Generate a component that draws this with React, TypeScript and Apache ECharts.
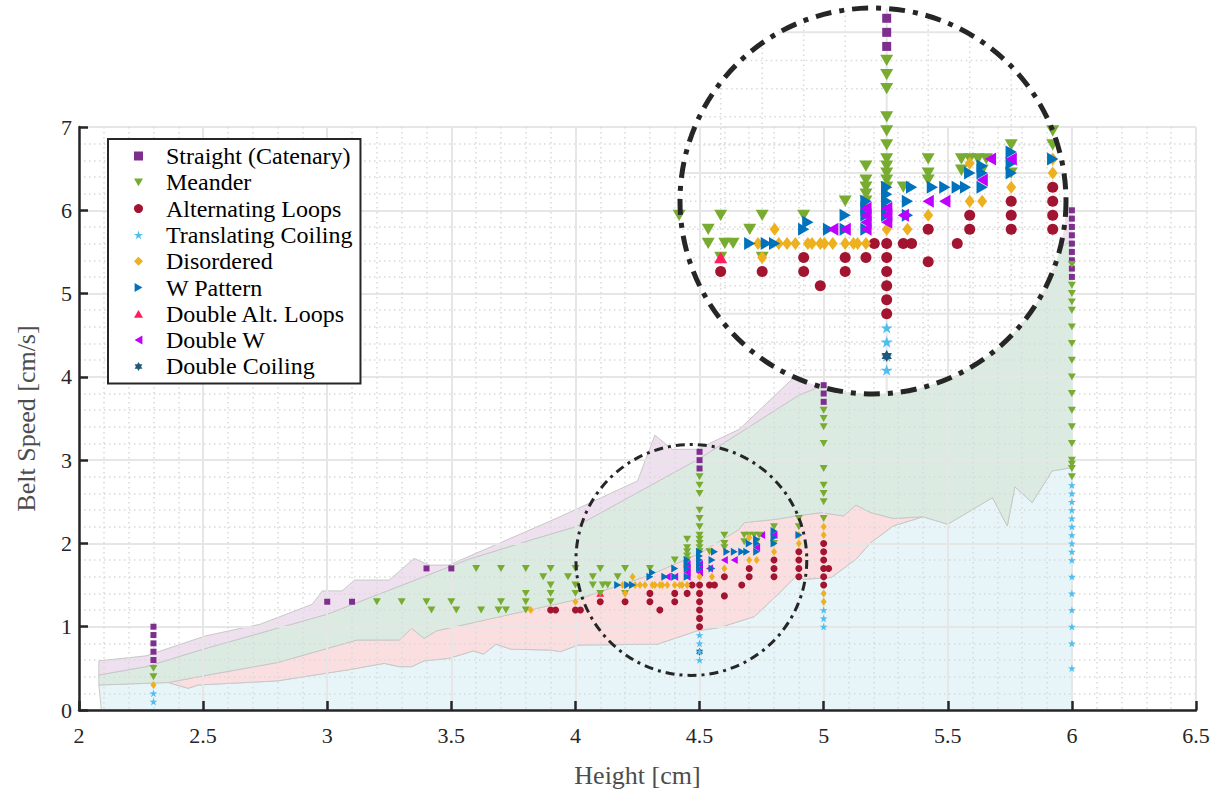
import React, { useEffect, useRef } from "react";
import * as echarts from "echarts";

type Pt = [number, number];

// ---------------- data ----------------
const STRAIGHT: Pt[] = [
  [2.3, 1.0], [2.3, 0.9], [2.3, 0.8], [2.3, 0.7], [2.3, 0.6],
  [3.0, 1.3], [3.1, 1.3], [3.4, 1.7], [3.5, 1.7],
  [4.5, 3.1], [4.5, 3.0], [4.5, 2.9],
  [5.0, 3.9], [5.0, 3.8], [5.0, 3.7],
  [6.0, 6.0], [6.0, 5.9], [6.0, 5.8], [6.0, 5.7], [6.0, 5.6], [6.0, 5.5], [6.0, 5.4], [6.0, 5.3], [6.0, 5.2],
];

const MEANDER: Pt[] = [
  [2.3, 0.5], [2.3, 0.4],
  [3.2, 1.3], [3.3, 1.3], [3.4, 1.3], [3.5, 1.3], [3.7, 1.3], [3.8, 1.3], [3.9, 1.3],
  [3.42, 1.2], [3.52, 1.2], [3.62, 1.2], [3.69, 1.2], [3.72, 1.2], [3.8, 1.2],
  [3.6, 1.7], [3.7, 1.7], [3.8, 1.7], [3.9, 1.7], [4.0, 1.7], [4.1, 1.7], [4.2, 1.7], [4.3, 1.7],
  [3.87, 1.6], [3.97, 1.6], [4.07, 1.6], [4.17, 1.6],
  [3.9, 1.5], [4.0, 1.5], [4.07, 1.5], [4.11, 1.5], [4.13, 1.5],
  [3.8, 1.4], [3.9, 1.4], [4.0, 1.4], [4.1, 1.4], [4.2, 1.4],
  [4.4, 1.8],
  [4.45, 2.05], [4.45, 1.95], [4.45, 1.9], [4.45, 1.85], [4.45, 1.8],
  [4.5, 2.8], [4.5, 2.7], [4.5, 2.6], [4.5, 2.4], [4.5, 2.3], [4.5, 2.2], [4.5, 2.1], [4.5, 2.05], [4.5, 2.0], [4.5, 1.95], [4.5, 1.9],
  [4.54, 1.9],
  [4.6, 2.1], [4.6, 2.0], [4.6, 1.95],
  [4.68, 2.1], [4.7, 2.1], [4.72, 2.1], [4.74, 2.1], [4.68, 2.02], [4.73, 2.02],
  [4.8, 2.2], [4.8, 2.0],
  [4.9, 2.3], [4.9, 2.2],
  [5.0, 3.6], [5.0, 3.5], [5.0, 3.4], [5.0, 3.2], [5.0, 2.9], [5.0, 2.7], [5.0, 2.6], [5.0, 2.5], [5.0, 2.3],
  [6.0, 5.35], [6.0, 5.1], [6.0, 5.0], [6.0, 4.9], [6.0, 4.8], [6.0, 4.6], [6.0, 4.4], [6.0, 4.2], [6.0, 4.0],
  [6.0, 3.8], [6.0, 3.6], [6.0, 3.4], [6.0, 3.2], [6.0, 3.0], [6.0, 2.95], [6.0, 2.9], [6.0, 2.8],
];

const ALT_LOOPS: Pt[] = [
  [3.9, 1.2], [3.92, 1.2], [4.0, 1.2], [4.02, 1.2],
  [4.1, 1.3], [4.2, 1.3], [4.3, 1.4], [4.3, 1.3], [4.34, 1.2], [4.4, 1.4], [4.4, 1.3], [4.45, 1.4], [4.47, 1.5],
  [4.5, 1.5], [4.5, 1.4], [4.5, 1.3], [4.5, 1.2], [4.5, 1.1], [4.5, 1.0],
  [4.54, 1.5], [4.56, 1.5], [4.6, 1.6], [4.6, 1.37], [4.67, 1.5],
  [4.7, 1.7], [4.7, 1.6], [4.8, 1.8], [4.8, 1.7], [4.8, 1.6],
  [4.9, 1.9], [4.9, 1.8], [4.9, 1.7], [4.9, 1.6],
  [5.0, 2.0], [5.0, 1.9], [5.0, 1.8], [5.0, 1.7], [5.02, 1.7], [5.0, 1.6], [5.0, 1.5],
];

const TRANSLATING: Pt[] = [
  [2.3, 0.2], [2.3, 0.1],
  [4.5, 0.9], [4.5, 0.8], [4.5, 0.7], [4.5, 0.6],
  [5.0, 1.2], [5.0, 1.1], [5.0, 1.0],
  [6.0, 2.7], [6.0, 2.6], [6.0, 2.5], [6.0, 2.4], [6.0, 2.3], [6.0, 2.2], [6.0, 2.1], [6.0, 2.0],
  [6.0, 1.9], [6.0, 1.8], [6.0, 1.6], [6.0, 1.4], [6.0, 1.2], [6.0, 1.0], [6.0, 0.8], [6.0, 0.5],
];

const DISORDERED: Pt[] = [
  [2.3, 0.3],
  [3.82, 1.2], [4.0, 1.3],
  [4.19, 1.5], [4.23, 1.6], [4.2, 1.4],
  [4.24, 1.5], [4.26, 1.5], [4.28, 1.5], [4.31, 1.5], [4.32, 1.5], [4.34, 1.5], [4.35, 1.5], [4.37, 1.5],
  [4.4, 1.5], [4.42, 1.5], [4.43, 1.5], [4.45, 1.5],
  [4.5, 1.6], [4.55, 1.6], [4.6, 1.7], [4.7, 1.8], [4.73, 1.8], [4.7, 2.07], [4.8, 1.9], [4.9, 2.0], [4.9, 2.1],
  [5.0, 2.2], [5.0, 2.1], [5.0, 1.4], [5.0, 1.3],
];

const W_PATTERN: Pt[] = [
  [4.17, 1.5], [4.21, 1.5], [4.23, 1.5],
  [4.3, 1.6], [4.31, 1.65],
  [4.36, 1.6], [4.4, 1.6], [4.4, 1.7],
  [4.45, 1.8], [4.45, 1.75], [4.45, 1.7], [4.45, 1.6],
  [4.5, 1.9], [4.5, 1.85], [4.5, 1.8], [4.5, 1.75], [4.5, 1.7],
  [4.55, 1.8], [4.55, 1.7],
  [4.56, 1.9], [4.61, 1.9], [4.64, 1.9], [4.67, 1.9], [4.69, 1.9],
  [4.7, 2.0], [4.73, 2.05], [4.73, 2.0], [4.73, 1.9],
  [4.8, 2.15], [4.8, 2.07], [4.8, 2.0],
  [4.9, 2.1],
];

const DOUBLE_ALT: Pt[] = [[4.1, 1.4]];

const DOUBLE_W: Pt[] = [
  [4.37, 1.6], [4.4, 1.6], [4.45, 1.75], [4.45, 1.7], [4.45, 1.65], [4.45, 1.6],
  [4.5, 1.75], [4.5, 1.7], [4.5, 1.65], [4.54, 1.7], [4.6, 1.8], [4.64, 1.8],
  [4.73, 1.95], [4.75, 2.1], [4.8, 2.1],
];

const DOUBLE_COILING: Pt[] = [[4.5, 0.7]];

// regime boundaries (shaded regions)
const CYAN_TOP: Pt[] = [
  [2.08, 0.3], [2.36, 0.33], [2.44, 0.26], [2.48, 0.3], [2.8, 0.35], [3.1, 0.49], [3.23, 0.56], [3.29, 0.52],
  [3.34, 0.52], [3.39, 0.59], [3.49, 0.62], [3.59, 0.71], [3.63, 0.67], [3.68, 0.79], [3.74, 0.73], [3.9, 0.72],
  [3.94, 0.7], [4.01, 0.78], [4.33, 0.79], [4.49, 0.95], [4.58, 0.99], [4.72, 1.12], [4.82, 1.4], [4.89, 1.61],
  [4.92, 1.57], [5.03, 1.59], [5.13, 1.81], [5.19, 2.01], [5.28, 2.21], [5.4, 2.32], [5.5, 2.23], [5.68, 2.55],
  [5.74, 2.21], [5.77, 2.68], [5.84, 2.49], [5.92, 2.87], [6.0, 2.91],
];
const RED_TOP: Pt[] = [
  [2.36, 0.33], [2.5, 0.41], [2.8, 0.57], [3.12, 0.84], [3.29, 0.84], [3.34, 0.98], [3.39, 0.86], [3.44, 0.95],
  [3.59, 1.05], [4.01, 1.33], [4.3, 1.62], [4.5, 1.88], [4.66, 2.17], [4.68, 2.25], [4.81, 2.29], [4.89, 2.33],
  [4.99, 2.37], [5.08, 2.33], [5.13, 2.46], [5.19, 2.37], [5.28, 2.3], [5.4, 2.32],
];
const GREEN_TOP: Pt[] = [
  [2.08, 0.42], [2.27, 0.52], [2.5, 0.73], [3.0, 1.15], [3.57, 1.81], [3.83, 2.05], [4.0, 2.2], [4.5, 3.02],
  [4.9, 3.78], [5.0, 3.9], [5.5, 4.75], [6.0, 5.64],
];
const PURPLE_TOP: Pt[] = [
  [2.08, 0.59], [2.27, 0.65], [2.51, 0.89], [2.73, 1.03], [2.94, 1.27], [2.98, 1.43], [3.06, 1.43], [3.11, 1.56],
  [3.25, 1.56], [3.35, 1.82], [3.41, 1.74], [3.49, 1.74], [3.73, 2.05], [3.93, 2.31], [4.25, 2.75], [4.32, 3.3],
  [4.39, 3.13], [4.49, 3.13], [4.66, 3.37], [4.9, 4.05], [5.0, 4.15], [5.5, 5.1], [6.0, 6.0],
];
const BASELINE: Pt[] = [[2.09, 0], [6.0, 0]];

// magnified view (data window shown inside the big circle)
const INSET_X: Pt = [4.002, 4.932];
const INSET_Y: Pt = [0.43, 3.173];
const INSET_TICKS_X = [4.1, 4.2, 4.3, 4.4, 4.5, 4.6, 4.7, 4.8, 4.9];
const INSET_TICKS_Y = [0.6, 0.8, 1.0, 1.2, 1.4, 1.6, 1.8, 2.0, 2.2, 2.4, 2.6, 2.8, 3.0];

const NAMES = [
  "Straight (Catenary)", "Meander", "Alternating Loops", "Translating Coiling", "Disordered",
  "W Pattern", "Double Alt. Loops", "Double W", "Double Coiling",
];
const SERIES_DATA: Pt[][] = [
  STRAIGHT, MEANDER, ALT_LOOPS, TRANSLATING, DISORDERED, W_PATTERN, DOUBLE_ALT, DOUBLE_W, DOUBLE_COILING,
];

// ---------------- styles ----------------
const COLORS = ["#7E2F8E", "#77AC30", "#A2142F", "#4DBEEE", "#EDB120", "#0072BD", "#FF1F5B", "#BF00FF", "#1E5A78"];
const SYM_DOWN = "path://M0,0L10,0L5,8.66Z";
const SYM_RIGHT = "path://M0,0L8.66,5L0,10Z";
const SYM_LEFT = "path://M8.66,0L0,5L8.66,10Z";
const SYM_UP = "path://M5,0L10,8.66L0,8.66Z";
const SYM_STAR5 =
  "path://M50,0L61.2,34.5L97.6,34.5L68.2,55.9L79.4,90.5L50,69.1L20.6,90.5L31.8,55.9L2.4,34.5L38.8,34.5Z";
const SYM_STAR6 =
  "path://M50,0L64.4,25L93.3,25L78.9,50L93.3,75L64.4,75L50,100L35.6,75L6.7,75L21.1,50L6.7,25L35.6,25Z";
const SYMBOLS = ["rect", SYM_DOWN, "circle", SYM_STAR5, "diamond", SYM_RIGHT, SYM_UP, SYM_LEFT, SYM_STAR6];
const MAIN_SIZE: any[] = [6, 8, 7, 8, [6, 8], 8, 8, 8, 8];
const INSET_SIZE: any[] = [9, 13, 11, 12, [10, 13], 13, 13, 13, 12];
const BAND_FILLS = ["#e7f5f8", "#fbdfe0", "#dcebe1", "#eee0ef"];
const FONT = "'Liberation Serif', 'Times New Roman', serif";

function buildOption() {
  const cx = (INSET_X[0] + INSET_X[1]) / 2;
  const hx = (INSET_X[1] - INSET_X[0]) / 2;
  const cy = (INSET_Y[0] + INSET_Y[1]) / 2;
  const hy = (INSET_Y[1] - INSET_Y[0]) / 2;
  const inLens = (p: Pt) => ((p[0] - cx) / hx) ** 2 + ((p[1] - cy) / hy) ** 2 <= 1.04;

  const redStart = RED_TOP[0][0];
  const redEnd = RED_TOP[RED_TOP.length - 1][0];
  const lowerRed = CYAN_TOP.filter((p) => p[0] >= redStart && p[0] <= redEnd);
  const lowerGreen = [
    ...CYAN_TOP.filter((p) => p[0] < redStart),
    ...RED_TOP,
    ...CYAN_TOP.filter((p) => p[0] > redEnd),
  ];
  const bands: Pt[][] = [
    [...CYAN_TOP, ...BASELINE.slice().reverse()],
    [...RED_TOP, ...lowerRed.slice().reverse()],
    [...GREEN_TOP, ...lowerGreen.slice().reverse()],
    [...PURPLE_TOP, ...GREEN_TOP.slice().reverse()],
  ];

  const insetLines: { dir: string; v: number; major: boolean }[] = [
    ...INSET_TICKS_X.map((v) => ({ dir: "v", v, major: Math.abs(v * 2 - Math.round(v * 2)) < 1e-6 })),
    ...INSET_TICKS_Y.map((v) => ({ dir: "h", v, major: Math.abs(v - Math.round(v)) < 1e-6 })),
  ];

  const mainOrder = [6, 7, 8, 0, 1, 2, 3, 4, 5];
  const mainScatter = mainOrder.map((i) => ({
    type: "scatter",
    name: NAMES[i],
    data: SERIES_DATA[i],
    xAxisIndex: 0,
    yAxisIndex: 0,
    symbol: SYMBOLS[i],
    symbolSize: MAIN_SIZE[i],
    symbolKeepAspect: true,
    itemStyle: { color: COLORS[i], opacity: 1 },
    silent: true,
    z: 5,
  }));
  const insetScatter = NAMES.map((name, i) => ({
    type: "scatter",
    name,
    data: SERIES_DATA[i].filter(inLens),
    xAxisIndex: 1,
    yAxisIndex: 1,
    symbol: SYMBOLS[i],
    symbolSize: INSET_SIZE[i],
    symbolKeepAspect: true,
    itemStyle: { color: COLORS[i], opacity: 1 },
    silent: true,
    clip: false,
    z: 6,
  }));

  const gridLineStyle = { color: "#e6e6e6", width: 2 };
  const minorStyle = { color: "#d9d9d9", width: 1.5, type: [1.5, 3.5] };

  return {
    animation: false,
    backgroundColor: "#ffffff",
    grid: [
      { left: 79, right: 31, top: 127, bottom: 88 },
      { left: 680, top: 8, width: 386, height: 386 },
    ],
    legend: {
      data: NAMES,
      orient: "vertical",
      left: 108,
      top: 139,
      itemWidth: 9,
      itemHeight: 9,
      itemGap: 2.3,
      padding: [5, 8, 5, 26],
      backgroundColor: "#ffffff",
      borderColor: "#262626",
      borderWidth: 2,
      borderRadius: 0,
      selectedMode: false,
      z: 10,
      textStyle: { fontFamily: FONT, fontSize: 24, color: "#000000", lineHeight: 24, padding: [0, 0, 0, 18] },
    },
    xAxis: [
      {
        type: "value",
        gridIndex: 0,
        min: 2,
        max: 6.5,
        interval: 0.5,
        z: 4,
        name: "Height [cm]",
        nameLocation: "middle",
        nameGap: 52,
        nameTextStyle: { fontFamily: FONT, fontSize: 26, color: "#4d4d4d" },
        axisLine: { show: true, lineStyle: { color: "#262626", width: 2.5 } },
        axisTick: { show: true, inside: true, length: 9, lineStyle: { color: "#262626", width: 2.5 } },
        axisLabel: { fontFamily: FONT, fontSize: 22, color: "#262626", margin: 14 },
        splitLine: { show: true, lineStyle: gridLineStyle },
        minorTick: { show: false, splitNumber: 5 },
        minorSplitLine: { show: true, lineStyle: minorStyle },
      },
      { type: "value", gridIndex: 1, min: INSET_X[0], max: INSET_X[1], show: false },
    ],
    yAxis: [
      {
        type: "value",
        gridIndex: 0,
        min: 0,
        max: 7,
        interval: 1,
        z: 4,
        name: "Belt Speed [cm/s]",
        nameLocation: "middle",
        nameGap: 40,
        nameTextStyle: { fontFamily: FONT, fontSize: 26, color: "#4d4d4d" },
        axisLine: { show: true, lineStyle: { color: "#262626", width: 2.5 } },
        axisTick: { show: true, inside: true, length: 9, lineStyle: { color: "#262626", width: 2.5 } },
        axisLabel: { fontFamily: FONT, fontSize: 22, color: "#262626", margin: 7 },
        splitLine: { show: true, lineStyle: gridLineStyle },
        minorTick: { show: false, splitNumber: 5 },
        minorSplitLine: { show: true, lineStyle: minorStyle },
      },
      { type: "value", gridIndex: 1, min: INSET_Y[0], max: INSET_Y[1], show: false },
    ],
    series: [
      {
        type: "custom",
        name: "regions",
        xAxisIndex: 0,
        yAxisIndex: 0,
        silent: true,
        clip: false,
        z: 2,
        data: bands.map(() => [4, 1]),
        renderItem: (params: any, api: any) => ({
          type: "polygon",
          shape: { points: bands[params.dataIndex].map((p) => api.coord(p)) },
          style: { fill: BAND_FILLS[params.dataIndex], stroke: "#c8c8c8", lineWidth: 1 },
        }),
      },
      {
        type: "custom",
        name: "lens",
        xAxisIndex: 0,
        yAxisIndex: 0,
        silent: true,
        clip: false,
        z: 7,
        data: [[cx, cy]],
        renderItem: (params: any, api: any) => {
          const c = api.coord([api.value(0), api.value(1)]);
          const r = api.size([2 * hx, 0])[0] / 2;
          return {
            type: "circle",
            shape: { cx: c[0], cy: c[1], r },
            style: { fill: "none", stroke: "#262626", lineWidth: 3, lineDash: [9, 5, 3, 5] },
          };
        },
      },
      {
        type: "custom",
        name: "insetDisc",
        xAxisIndex: 1,
        yAxisIndex: 1,
        silent: true,
        clip: false,
        z: 3,
        data: [[cx, cy]],
        renderItem: (params: any, api: any) => {
          const c = api.coord([api.value(0), api.value(1)]);
          const r = api.size([2 * hx, 0])[0] / 2;
          return { type: "circle", shape: { cx: c[0], cy: c[1], r }, style: { fill: "#ffffff" } };
        },
      },
      {
        type: "custom",
        name: "insetGrid",
        xAxisIndex: 1,
        yAxisIndex: 1,
        silent: true,
        clip: false,
        z: 5,
        data: insetLines.map(() => [cx, cy]),
        renderItem: (params: any, api: any) => {
          const ln = insetLines[params.dataIndex];
          let a: number[];
          let b: number[];
          if (ln.dir === "v") {
            const t = (ln.v - cx) / hx;
            if (Math.abs(t) >= 1) return null;
            const d = hy * Math.sqrt(1 - t * t);
            a = api.coord([ln.v, cy - d]);
            b = api.coord([ln.v, cy + d]);
          } else {
            const t = (ln.v - cy) / hy;
            if (Math.abs(t) >= 1) return null;
            const d = hx * Math.sqrt(1 - t * t);
            a = api.coord([cx - d, ln.v]);
            b = api.coord([cx + d, ln.v]);
          }
          return {
            type: "line",
            shape: { x1: a[0], y1: a[1], x2: b[0], y2: b[1] },
            style: ln.major
              ? { stroke: "#e6e6e6", lineWidth: 2 }
              : { stroke: "#d9d9d9", lineWidth: 1.5, lineDash: [1.5, 3.5] },
          };
        },
      },
      {
        type: "custom",
        name: "insetBorder",
        xAxisIndex: 1,
        yAxisIndex: 1,
        silent: true,
        clip: false,
        z: 7,
        data: [[cx, cy]],
        renderItem: (params: any, api: any) => {
          const c = api.coord([api.value(0), api.value(1)]);
          const r = api.size([2 * hx, 0])[0] / 2;
          return {
            type: "circle",
            shape: { cx: c[0], cy: c[1], r },
            style: { fill: "none", stroke: "#262626", lineWidth: 5, lineDash: [16, 8, 5, 8] },
          };
        },
      },
      ...mainScatter,
      ...insetScatter,
    ],
  };
}

export default function App() {
  const ref = useRef<HTMLDivElement>(null);
  useEffect(() => {
    if (!ref.current) return;
    const chart = echarts.init(ref.current, undefined, { renderer: "svg" });
    chart.setOption(buildOption() as any);
    return () => chart.dispose();
  }, []);
  return (
    <div
      ref={ref}
      style={{ position: "fixed", left: 0, top: 0, width: 1227, height: 798, background: "#ffffff" }}
    />
  );
}
